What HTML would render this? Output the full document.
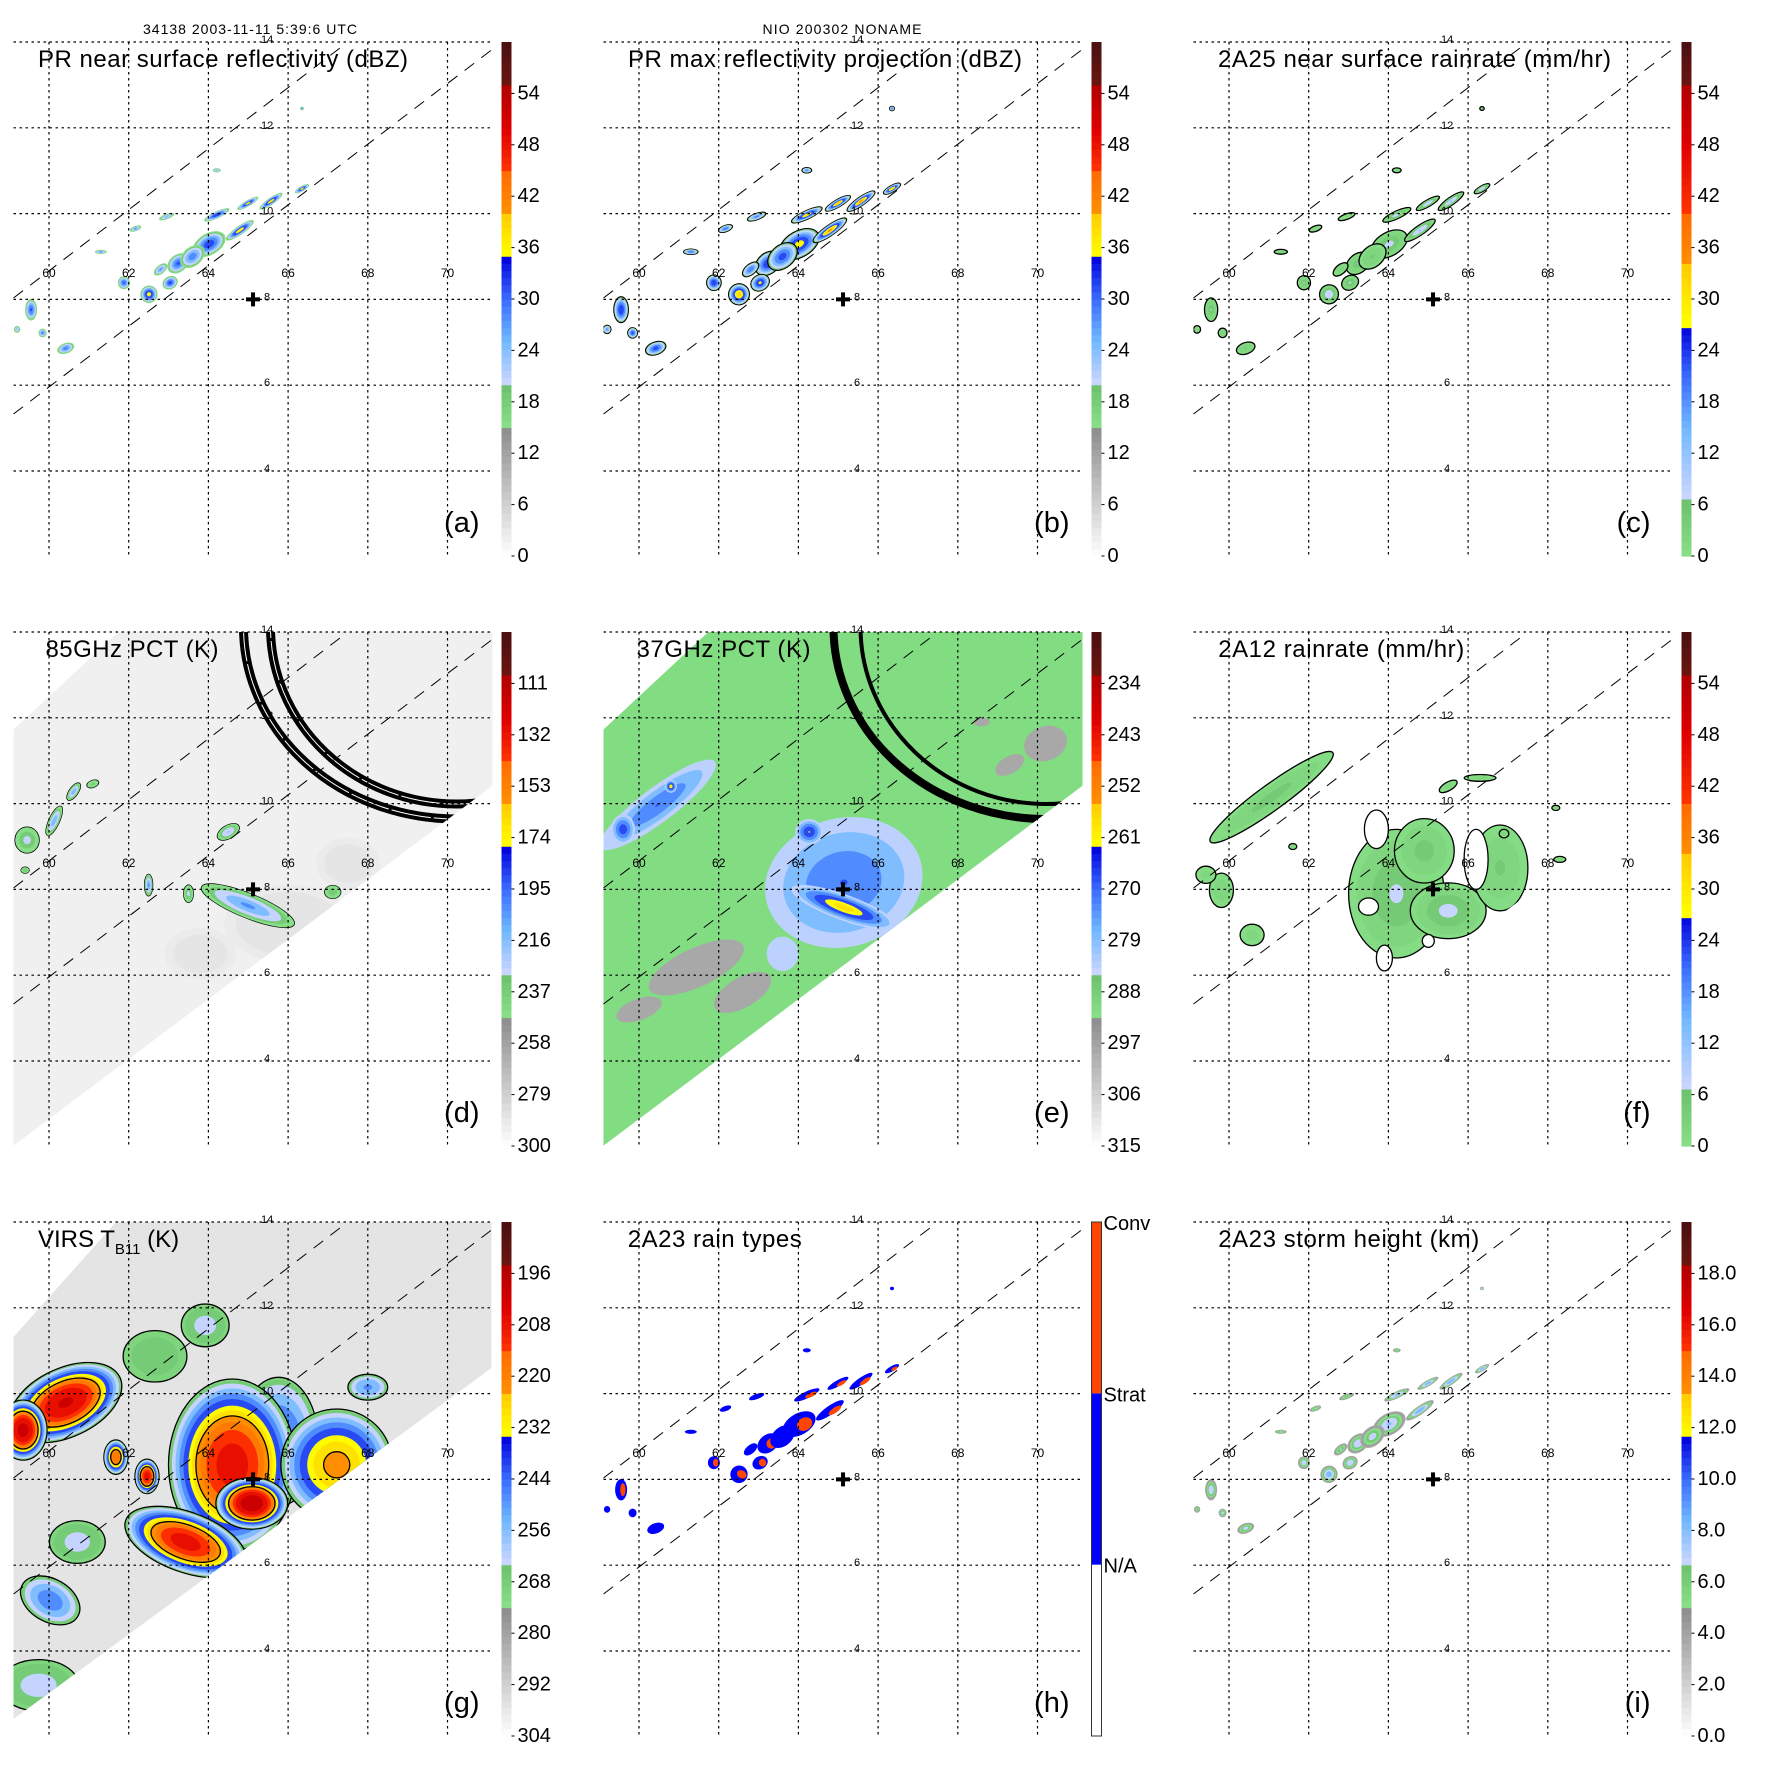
<!DOCTYPE html>
<html><head><meta charset="utf-8"><title>TRMM overpass panels</title>
<style>
html,body{margin:0;padding:0;background:#fff;}
svg{display:block;font-family:"Liberation Sans",Arial,sans-serif;}
</style></head>
<body>
<svg id="chart" xmlns="http://www.w3.org/2000/svg" width="1771" height="1771" viewBox="0 0 1771 1771">
<rect x="0" y="0" width="1771" height="1771" fill="#fff"/>
<text x="250" y="34" font-size="14" text-anchor="middle" textLength="214">34138 2003-11-11 5:39:6 UTC</text>
<text x="842" y="34" font-size="14" text-anchor="middle" textLength="159">NIO 200302 NONAME</text>
</svg>
<script>
// ---------- data ----------
const lonTicks = [60, 62, 64, 66, 68, 70];
const latTicks = [14, 12, 10, 8, 6, 4];
const panelTitles = ["PR near surface reflectivity (dBZ)", "PR max reflectivity projection (dBZ)", "2A25 near surface rainrate (mm/hr)",
  "85GHz PCT (K)", "37GHz PCT (K)", "2A12 rainrate (mm/hr)", "VIRS T", "2A23 rain types", "2A23 storm height (km)"];
const panelLetters = ["(a)", "(b)", "(c)", "(d)", "(e)", "(f)", "(g)", "(h)", "(i)"];
const cbLabelsA = ["0", "6", "12", "18", "24", "30", "36", "42", "48", "54"];
const cbLabelsD = ["300", "279", "258", "237", "216", "195", "174", "153", "132", "111"];
const cbLabelsE = ["315", "306", "297", "288", "279", "270", "261", "252", "243", "234"];
const cbLabelsG = ["304", "292", "280", "268", "256", "244", "232", "220", "208", "196"];
const cbLabelsI = ["0.0", "2.0", "4.0", "6.0", "8.0", "10.0", "12.0", "14.0", "16.0", "18.0"];
const rainTypeLabels = ["N/A", "Strat", "Conv"];
const stormCenter = [65.12, 8.0];
// PR cells: lon, lat, rx(deg), ry(deg), rotation(deg), peak dBZ
const prCells = [
  [64.02, 9.29, 0.45, 0.25, -30, 34], [64.79, 9.61, 0.42, 0.1, -35, 38], [65.57, 10.29, 0.35, 0.08, -35, 38],
  [66.35, 10.58, 0.2, 0.06, -30, 37], [64.21, 9.97, 0.35, 0.08, -25, 35], [64.99, 10.24, 0.3, 0.07, -30, 37],
  [63.24, 8.84, 0.3, 0.2, -40, 32], [63.04, 8.39, 0.2, 0.15, -30, 33], [62.51, 8.12, 0.22, 0.2, -60, 37],
  [61.88, 8.39, 0.15, 0.15, 0, 32], [59.55, 7.76, 0.15, 0.25, 0, 32], [59.84, 7.22, 0.1, 0.1, 0, 30],
  [60.42, 6.86, 0.22, 0.12, -20, 30], [61.3, 9.11, 0.15, 0.05, 0, 28], [64.21, 11.01, 0.1, 0.05, 0, 26],
  [62.95, 9.93, 0.2, 0.06, -20, 26], [62.17, 9.65, 0.15, 0.06, -20, 28], [66.35, 12.45, 0.05, 0.04, 0, 28],
  [63.6, 9.0, 0.35, 0.22, -40, 30], [59.2, 7.3, 0.08, 0.08, 0, 25], [62.8, 8.7, 0.2, 0.1, -40, 28]
];
// 85 GHz PCT features: lon, lat, rx, ry, rot, min K
const pct85Cells = [
  [66.0, 7.2, 1.6, 0.9, 0, 278], [63.8, 6.5, 0.9, 0.6, 0, 282], [67.5, 8.6, 0.8, 0.6, 0, 282],
  [64.99, 7.62, 1.25, 0.28, 22, 200], [59.45, 9.15, 0.3, 0.3, 0, 225], [60.13, 9.6, 0.4, 0.12, -65, 205],
  [60.62, 10.28, 0.25, 0.1, -55, 205], [61.1, 10.46, 0.15, 0.08, -20, 235], [64.5, 9.34, 0.3, 0.15, -30, 215],
  [67.12, 7.94, 0.2, 0.15, 0, 230], [63.5, 7.9, 0.12, 0.2, 0, 225], [62.5, 8.1, 0.1, 0.25, 0, 200], [59.4, 8.45, 0.1, 0.07, 0, 230]
];
// 37 GHz PCT features
const pct37Cells = [
  [61.44, 6.18, 1.3, 0.45, -25, 298], [62.6, 5.6, 0.8, 0.35, -30, 298], [70.2, 11.4, 0.55, 0.4, -20, 298],
  [69.3, 10.9, 0.4, 0.2, -30, 298], [68.6, 11.9, 0.2, 0.1, 0, 298], [60.0, 5.2, 0.6, 0.25, -20, 298],
  [65.14, 8.16, 2.0, 1.5, -15, 268], [65.14, 7.58, 1.4, 0.3, 20, 256], [64.27, 9.34, 0.35, 0.3, 0, 262],
  [60.47, 9.97, 1.8, 0.4, -37, 268], [59.6, 9.4, 0.3, 0.35, 0, 264], [63.6, 6.5, 0.4, 0.4, 0, 280], [60.8, 10.4, 0.15, 0.15, 0, 258]
];
// 2A12 rain areas: lon, lat, rx, ry, rot, mm/hr
const tmiRain = [
  [64.2, 7.9, 1.2, 1.5, 0, 8], [65.5, 7.5, 0.95, 0.65, 0, 9], [66.8, 8.5, 0.7, 1.0, 0, 5], [64.9, 8.9, 0.75, 0.75, 0, 6],
  [61.07, 10.15, 1.9, 0.3, -36, 6], [59.81, 7.98, 0.3, 0.4, 0, 4], [60.58, 6.94, 0.3, 0.25, 0, 3],
  [59.42, 8.34, 0.25, 0.2, 0, 3], [65.5, 10.4, 0.25, 0.1, -30, 3], [66.3, 10.6, 0.4, 0.08, 0, 3],
  [68.2, 9.9, 0.1, 0.06, 0, 3], [68.3, 8.7, 0.15, 0.07, 0, 3], [66.9, 9.3, 0.12, 0.1, 0, 3], [61.6, 9.0, 0.1, 0.07, 0, 3]
];
const tmiHoles = [[63.7, 9.4, 0.3, 0.45], [66.2, 8.7, 0.3, 0.7], [63.5, 7.6, 0.25, 0.2], [63.9, 6.4, 0.2, 0.3], [65.0, 6.8, 0.15, 0.15]];
// VIRS IR cells: lon, lat, rx, ry, rot, min K
const virsCells = [
  [65.76, 8.88, 1.0, 1.5, 0, 240], [64.6, 8.34, 1.6, 2.0, 0, 205], [67.22, 8.34, 1.4, 1.3, 0, 222],
  [60.42, 9.79, 1.5, 0.8, -25, 200], [63.43, 6.54, 1.6, 0.7, 20, 205], [65.09, 7.44, 0.9, 0.6, 0, 195],
  [59.35, 9.15, 0.6, 0.7, 0, 198], [63.92, 11.59, 0.6, 0.5, 0, 262], [59.74, 3.2, 1.0, 0.6, 0, 262],
  [60.03, 5.18, 0.8, 0.5, 30, 245], [60.71, 6.54, 0.7, 0.5, 0, 262], [62.66, 10.87, 0.8, 0.6, 0, 265],
  [68.0, 10.15, 0.5, 0.3, 0, 248], [62.46, 8.07, 0.3, 0.4, 0, 205], [61.68, 8.52, 0.3, 0.4, 0, 215]
];
const arcs85 = [[443, -5, 213, 192, 9], [443, -5, 186, 177, 9]];
const arcs37 = [[443, -5, 213, 192, 8], [443, -5, 186, 177, 4]];

// ---------- helpers ----------
const NS = 'http://www.w3.org/2000/svg';
const svg = document.getElementById('chart');
function mk(tag, attrs, parent) { const e = document.createElementNS(NS, tag); for (const k in attrs) e.setAttribute(k, attrs[k]); parent.appendChild(e); return e; }
const PW = 479, PH = 514;
const X = lon => 35.5 + (lon - 60) * 39.85;
const Y = lat => (14 - lat) * 42.9;
function hex(h) { return [parseInt(h.slice(1, 3), 16), parseInt(h.slice(3, 5), 16), parseInt(h.slice(5, 7), 16)]; }
const PRMAP = [[0, '#ffffff'], [0.249, '#8c8c8c'], [0.253, '#88e088'], [0.335, '#6cc06c'], [0.337, '#ccd6ff'], [0.42, '#70b8ff'], [0.5, '#3a6cff'], [0.582, '#0000dd'], [0.584, '#ffff00'], [0.665, '#ffcc00'], [0.667, '#ff9000'], [0.749, '#ff6a00'], [0.751, '#ff3300'], [0.83, '#e00000'], [0.916, '#b00000'], [0.918, '#6a1510'], [1, '#4a1010']];
const RAINMAP = [[0, '#88e088'], [0.113, '#6cc06c'], [0.115, '#ccd6ff'], [0.25, '#70b8ff'], [0.35, '#3a6cff'], [0.449, '#0000dd'], [0.451, '#ffff00'], [0.564, '#ffcc00'], [0.566, '#ff9000'], [0.665, '#ff6a00'], [0.667, '#ff3300'], [0.8, '#e00000'], [0.916, '#b00000'], [0.918, '#6a1510'], [1, '#4a1010']];
const PRTH = [0.05, 0.1, 0.15, 0.2, 0.253, 0.3, 0.337, 0.4, 0.46, 0.52, 0.584, 0.625, 0.667, 0.708, 0.751, 0.8, 0.86, 0.918];
const RAINTH = [0.03, 0.07, 0.115, 0.2, 0.28, 0.36, 0.451, 0.5, 0.566, 0.62, 0.667, 0.75, 0.83, 0.918];
function cmap(stops, f) {
  f = Math.max(0, Math.min(1, f));
  for (let i = 1; i < stops.length; i++) {
    if (f <= stops[i][0]) { const a = stops[i - 1], b = stops[i]; const t = (f - a[0]) / (b[0] - a[0] || 1); const ca = hex(a[1]), cb = hex(b[1]);
      return 'rgb(' + ca.map((c, k) => Math.round(c + (cb[k] - c) * t)).join(',') + ')'; }
  }
  return stops[stops.length - 1][1];
}
function ell(g, cx, cy, rx, ry, rot, fill, stroke) {
  const e = mk('ellipse', { cx: cx.toFixed(1), cy: cy.toFixed(1), rx: Math.max(rx, 0.8).toFixed(1), ry: Math.max(ry, 0.8).toFixed(1), transform: 'rotate(' + rot + ' ' + cx.toFixed(1) + ' ' + cy.toFixed(1) + ')', fill: fill }, g);
  if (stroke) { e.setAttribute('stroke', stroke); e.setAttribute('stroke-width', '1.3'); }
  return e;
}
// cone-shaped cells: value goes from rim value at the edge to peak value at centre
function drawCells(g, cells, toFrac, rimV, stops, ths, opt) {
  opt = opt || {};
  const rf = toFrac(rimV), pw = opt.power || 1;
  cells.forEach(c => {
    const [lon, lat, rx, ry, rot, v] = c;
    const pf = toFrac(v), cx = X(lon), cy = Y(lat), RX = rx * 39.85 * (opt.scale || 1), RY = ry * 42.9 * (opt.scale || 1);
    if (pf <= rf) {
      const e = ell(g, cx, cy, RX, RY, rot, cmap(stops, pf), opt.outline ? '#000' : null);
      
      
      return;
    }
    const rings = [rf].concat(ths.filter(t => t > rf && t < pf));
    rings.forEach((t, i) => {
      const s = Math.pow((pf - t) / (pf - rf), pw);
      const stroke = (opt.outline && i === 0) || (opt.contour && Math.abs(t - opt.contour) < 1e-6) ? '#000' : null;
      const e = ell(g, cx, cy, RX * s, RY * s, rot, cmap(stops, t + 0.006), stroke);
      
      
    });
  });
}

const swathTMI = '0,97.5 104.8,0 479,0 479,153.7 0,513.7';
const swathVIRS = '0,115 102.6,0 478,0 478,146 0,497';

function panel(idx) {
  const c = idx % 3, r = Math.floor(idx / 3);
  const ox = 13.5 + 590 * c, oy = 42 + 590 * r;
  const g = mk('g', { transform: 'translate(' + ox + ',' + oy + ')' }, svg);
  
  
  const cp = mk('clipPath', { id: 'clip' + idx }, g);
  mk('rect', { x: 0, y: 0, width: PW, height: PH }, cp);
  const data = mk('g', { 'clip-path': 'url(#clip' + idx + ')' }, g);
  
  
  return { g, data, ox, oy };
}
function swath(P, idx, pts, fill) {
  const cp = mk('clipPath', { id: 'sw' + idx }, P.g);
  mk('polygon', { points: pts }, cp);
  const poly = mk('polygon', { points: pts, fill: fill }, P.data);
  
  
  const inner = mk('g', { 'clip-path': 'url(#sw' + idx + ')' }, P.data);
  
  
  return inner;
}
function arcsDraw(g, arcs, dbl) {
  arcs.forEach(a => {
    const e = mk('ellipse', { cx: a[0], cy: a[1], rx: a[2], ry: a[3], fill: 'none', stroke: '#000', 'stroke-width': a[4] }, g);
    
    
    if (dbl) { mk('ellipse', { cx: a[0], cy: a[1], rx: a[2], ry: a[3], fill: 'none', stroke: '#fff', 'stroke-width': 1, 'stroke-dasharray': '40 3' }, g); }
  });
}
function frame(P, idx, cbLabels, stops, letterEnd) {
  const g = P.g;
  latTicks.forEach(lat => {
    const l = mk('line', { x1: 0, x2: PW, y1: Y(lat), y2: Y(lat), stroke: '#000', 'stroke-width': 1.2, 'stroke-dasharray': '2.5 3.5' }, g);
    
    
    const t = mk('text', { x: 253.6, y: Y(lat) + 1, 'font-size': 11, 'text-anchor': 'middle' }, g);
    t.textContent = lat;
    
    
  });
  lonTicks.forEach(lon => {
    const l = mk('line', { x1: X(lon), x2: X(lon), y1: 0, y2: PH, stroke: '#000', 'stroke-width': 1.2, 'stroke-dasharray': '2.5 3.5' }, g);
    
    
    const t = mk('text', { x: X(lon), y: 235, 'font-size': 12, 'text-anchor': 'middle' }, g);
    t.textContent = lon;
    
    
  });
  [[0, 256, 331, 2.5], [0, 372, 478, 8]].forEach(L => {
    const l = mk('line', { x1: L[0], y1: L[1], x2: L[2], y2: L[3], stroke: '#000', 'stroke-width': 1, 'stroke-dasharray': '12 9' }, g);
    
    
  });
  const cx = X(stormCenter[0]), cy = Y(stormCenter[1]);
  const cr = mk('path', { d: 'M' + (cx - 7) + ' ' + cy + 'H' + (cx + 7) + 'M' + cx + ' ' + (cy - 7) + 'V' + (cy + 7), stroke: '#000', 'stroke-width': 4 }, g);
  
  
  const tx = [24.5, 24.5, 24.5, 32, 33, 24.7, 24.5, 24.2, 24.7][idx];
  const tl = [370, 394, 393, 173, 174, 246, 0, 174, 261][idx];
  const t = mk('text', { x: tx, y: 25, 'font-size': 24 }, g);
  
  
  if (idx === 6) {
    t.textContent = 'VIRS T';
    const s = mk('tspan', { 'font-size': 15, dy: 7 }, t); s.textContent = 'B11';
    const s2 = mk('tspan', { dy: -7 }, t); s2.textContent = ' (K)';
  } else { t.textContent = panelTitles[idx]; t.setAttribute('textLength', tl); }
  const lt = mk('text', { x: letterEnd, y: 490, 'font-size': 29, 'text-anchor': 'end' }, g);
  lt.textContent = panelLetters[idx];
  
  
  const cb = mk('g', {}, g);
  
  
  if (stops) {
    const N = 72;
    for (let i = 0; i < N; i++) {
      const f = (i + 0.5) / N;
      mk('rect', { x: 488, y: (PH * (1 - (i + 1) / N)).toFixed(2), width: 10, height: (PH / N + 0.6).toFixed(2), fill: cmap(stops, f) }, cb);
    }
    cbLabels.forEach((lab, k) => {
      const yy = PH * (1 - k / 10);
      mk('line', { x1: 498, x2: 501, y1: yy, y2: yy, stroke: '#000', 'stroke-width': 1 }, cb);
      const tt = mk('text', { x: 504, y: yy, 'font-size': 20, 'dominant-baseline': 'central' }, cb);
      tt.textContent = lab;
      
      
    });
  } else {
    const cols = ['#ffffff', '#0000ff', '#ff4500'];
    cols.forEach((col, k) => mk('rect', { x: 488, y: PH * (1 - (k + 1) / 3), width: 10, height: PH / 3, fill: col }, cb));
    mk('rect', { x: 488, y: 0, width: 10, height: PH, fill: 'none', stroke: '#333', 'stroke-width': 1 }, cb);
    rainTypeLabels.forEach((lab, k) => {
      const tt = mk('text', { x: 500, y: PH * (1 - (k + 1) / 3) + 2, 'font-size': 20, 'dominant-baseline': 'central' }, cb);
      tt.textContent = lab;
      
      
    });
  }
}

// ---------- panels ----------
const fPR = v => v / 60, fRain = v => v / 60;
let P = panel(0);
drawCells(P.data, prCells, fPR, 15, PRMAP, PRTH, { name: 'reflectivity-cell', power: 0.6 });
frame(P, 0, cbLabelsA, PRMAP, 466);
P = panel(1);
drawCells(P.data, prCells.map(c => [c[0], c[1], c[2], c[3], c[4], c[5] + 3]), fPR, 17, PRMAP, PRTH, { name: 'max-reflectivity-cell', outline: true, scale: 1.2, power: 0.6 });
frame(P, 1, cbLabelsA, PRMAP, 466);
P = panel(2);
drawCells(P.data, prCells.map(c => [c[0], c[1], c[2], c[3], c[4], Math.max(c[5] - 25, 2)]), fRain, 0.5, RAINMAP, RAINTH, { name: 'rainrate-cell', outline: true, scale: 1.1 });
frame(P, 2, cbLabelsA, RAINMAP, 457);
P = panel(3);
let S = swath(P, 3, swathTMI, '#f0f0f0');
const f85 = v => (300 - v) / 210;
drawCells(S, pct85Cells.slice(0, 3), f85, 292, PRMAP, PRTH, { name: 'pct85-cold-area' });
drawCells(S, pct85Cells.slice(3), f85, 247, PRMAP, PRTH, { name: 'pct85-cell', outline: true, power: 0.7 });
arcsDraw(S, arcs85, true);
frame(P, 3, cbLabelsD, PRMAP, 466);
P = panel(4);
const f37 = v => (315 - v) / 90;
S = swath(P, 4, swathTMI, '#82dc82');
drawCells(S, pct37Cells, f37, 284, PRMAP, PRTH, { name: 'pct37-cell', power: 0.7 });
arcsDraw(S, arcs37, false);
frame(P, 4, cbLabelsE, PRMAP, 466);
P = panel(5);
S = swath(P, 5, swathTMI, 'none');
drawCells(S, tmiRain, fRain, 0.5, RAINMAP, RAINTH, { name: 'tmi-rain-area', outline: true });
tmiHoles.forEach(h => {
  const e = ell(S, X(h[0]), Y(h[1]), h[2] * 39.85, h[3] * 42.9, 0, '#fff', '#000');
  
  
});
frame(P, 5, cbLabelsA, RAINMAP, 457);
P = panel(6);
S = swath(P, 6, swathVIRS, '#e4e4e4');
const fV = v => (304 - v) / 120;
drawCells(S, virsCells, fV, 271, PRMAP, PRTH, { name: 'ir-cloud-cell', outline: true, contour: 0.667, power: 0.45 });
frame(P, 6, cbLabelsG, PRMAP, 466);
P = panel(7);
prCells.forEach(c => {
  const cx = X(c[0]), cy = Y(c[1]), RX = c[2] * 39.85, RY = c[3] * 42.9;
  const e = ell(P.data, cx, cy, RX, RY, c[4], '#0000ff', null);
  
  
  if (c[5] >= 32) {
    const k = ell(P.data, cx + RX * 0.3, cy, RX * 0.45, RY * 0.6, c[4], '#ff4500', null);
    
    
  }
});
frame(P, 7, null, null, 466);
P = panel(8);
drawCells(P.data, prCells.map(c => [c[0], c[1], c[2], c[3], c[4], 4 + (c[5] - 15) * 0.22]), v => v / 20, 3.5, PRMAP, PRTH, { name: 'storm-height-cell', power: 0.6 });
frame(P, 8, cbLabelsI, PRMAP, 457);
</script>
</body></html>
